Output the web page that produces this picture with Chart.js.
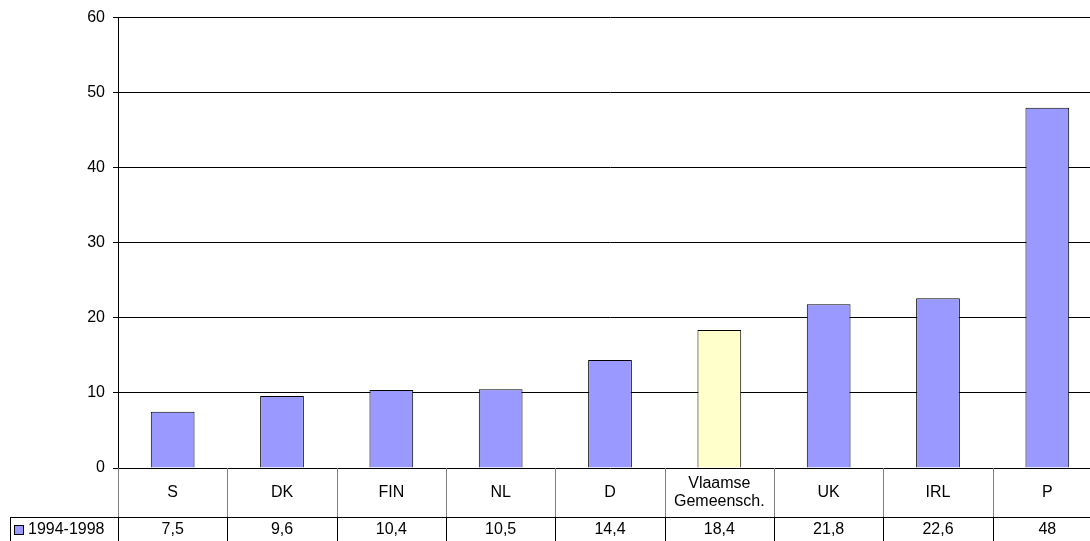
<!DOCTYPE html>
<html>
<head>
<meta charset="utf-8">
<script src="https://cdn.jsdelivr.net/npm/chart.js@4.4.0/dist/chart.umd.min.js"></script>
<style>
  html, body { margin: 0; padding: 0; background: #fff; overflow: hidden; }
  #wrap { width: 1102px; height: 541px; }
</style>
</head>
<body>
<div id="wrap"><canvas id="myChart" width="1102" height="541"></canvas></div>
<script>
var categories = [['S'], ['DK'], ['FIN'], ['NL'], ['D'], ['Vlaamse', 'Gemeensch.'], ['UK'], ['IRL'], ['P']];
var values = [7.5, 9.6, 10.4, 10.5, 14.4, 18.4, 21.8, 22.6, 48];
var seriesName = '1994-1998';
var barColors = ['#9999FF', '#9999FF', '#9999FF', '#9999FF', '#9999FF', '#FFFFCC', '#9999FF', '#9999FF', '#9999FF'];
var yMin = 0, yMax = 60, yStep = 10;

var FAMILY = '"Liberation Sans", Arial, sans-serif';
var FONT = '16px ' + FAMILY;

// data table under the plot, Excel style
var tablePlugin = {
  id: 'dataTable',
  afterDraw: function (chart) {
    var ctx = chart.ctx;
    var x = chart.scales.x;
    var area = chart.chartArea;
    var rowTop = area.bottom;
    var rowMid = rowTop + 49;
    var rowEnd = 541;
    var n = categories.length;
    var half = (x.getPixelForValue(1) - x.getPixelForValue(0)) / 2;

    ctx.save();
    ctx.lineWidth = 1;
    // category row separators (grey)
    ctx.strokeStyle = '#808080';
    for (var i = 0; i <= n; i++) {
      var bx = Math.round(x.getPixelForValue(i) - half) + 0.5;
      ctx.beginPath();
      ctx.moveTo(bx, rowTop);
      ctx.lineTo(bx, rowMid);
      ctx.stroke();
    }
    // value row lines (black)
    ctx.strokeStyle = '#000';
    ctx.beginPath();
    ctx.moveTo(10, rowMid + 0.5);
    ctx.lineTo(chart.width, rowMid + 0.5);
    ctx.moveTo(10.5, rowMid);
    ctx.lineTo(10.5, rowEnd);
    for (var j = 0; j <= n; j++) {
      var vx = Math.round(x.getPixelForValue(j) - half) + 0.5;
      ctx.moveTo(vx, rowMid);
      ctx.lineTo(vx, rowEnd);
    }
    ctx.stroke();

    ctx.font = FONT;
    ctx.fillStyle = '#000';
    ctx.textAlign = 'center';
    ctx.textBaseline = 'middle';
    categories.forEach(function (lines, k) {
      var cx = x.getPixelForValue(k);
      var cy = (rowTop + rowMid) / 2;
      var lh = 18;
      lines.forEach(function (t, li) {
        ctx.fillText(t, cx, cy + (li - (lines.length - 1) / 2) * lh);
      });
      ctx.fillText(String(values[k]).replace('.', ','), cx, (rowMid + rowEnd) / 2 + 1);
    });

    // legend key
    var ky = (rowMid + rowEnd) / 2 + 1;
    ctx.fillStyle = '#9999FF';
    ctx.fillRect(14.5, ky - 4.5, 9, 9);
    ctx.strokeRect(14.5, ky - 4.5, 9, 9);
    ctx.fillStyle = '#000';
    ctx.textAlign = 'left';
    ctx.fillText(seriesName, 28, ky);
    ctx.restore();
  }
};

var ctx = document.getElementById('myChart').getContext('2d');
var myChart = new Chart(ctx, {
  type: 'bar',
  data: {
    labels: categories.map(function (c) { return c.join(' '); }),
    datasets: [{
      label: seriesName,
      data: values,
      backgroundColor: barColors,
      borderColor: '#000',
      borderWidth: 1,
      categoryPercentage: 1,
      barPercentage: 0.4
    }]
  },
  options: {
    responsive: false,
    animation: false,
    layout: { padding: { top: 17, bottom: 73, left: 0, right: 0 } },
    plugins: {
      legend: { display: false },
      tooltip: { enabled: false }
    },
    scales: {
      x: {
        display: false
      },
      y: {
        min: yMin,
        max: yMax,
        ticks: {
          stepSize: yStep,
          color: '#000',
          font: { family: FAMILY, size: 16 },
          padding: 8
        },
        grid: { color: '#000', tickLength: 5 },
        border: { color: '#000' },
        afterFit: function (s) { s.width = 118; }
      }
    }
  },
  plugins: [tablePlugin]
});
</script>
</body>
</html>
